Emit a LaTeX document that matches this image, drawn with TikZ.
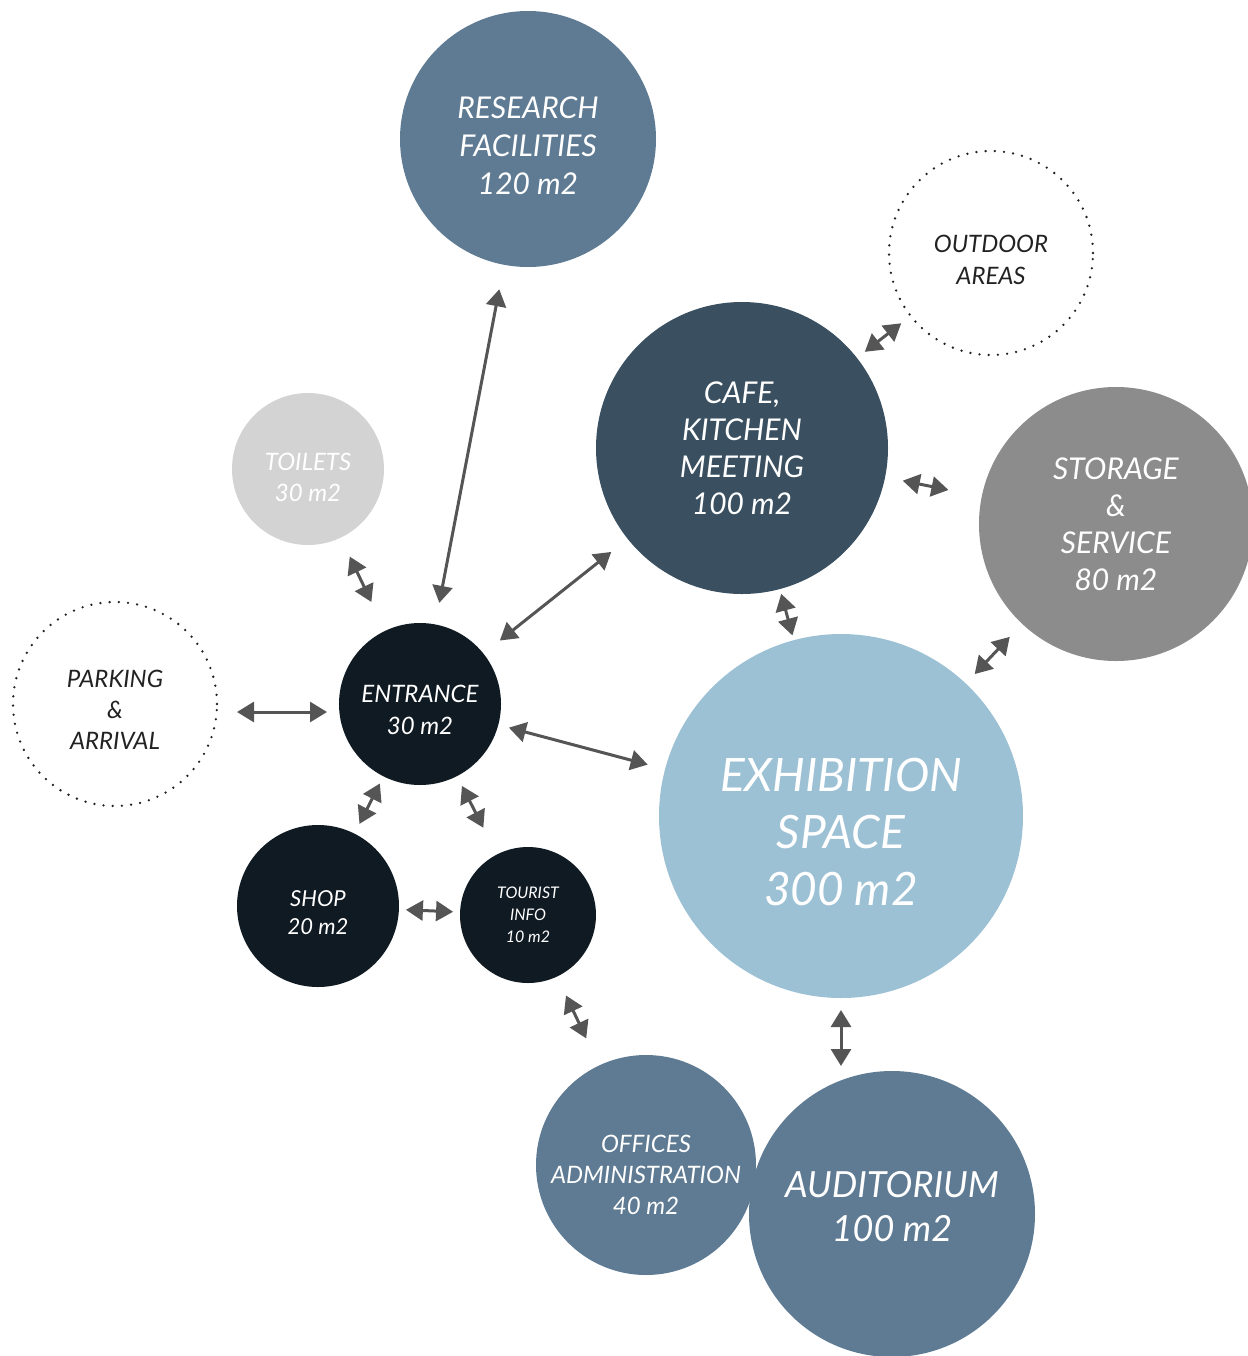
\documentclass[tikz,border=0pt]{standalone}
\usepackage{fontspec}
\setmainfont{Lato}
\usetikzlibrary{arrows.meta}

\definecolor{slateblue}{HTML}{5E7B93}
\definecolor{cafeblue}{HTML}{3A5060}
\definecolor{storegray}{HTML}{8C8C8C}
\definecolor{toiletgray}{HTML}{D3D3D3}
\definecolor{nightblue}{HTML}{101A22}
\definecolor{paleblue}{HTML}{9CC0D4}
\definecolor{arrowgray}{HTML}{555555}
\definecolor{textdark}{HTML}{222222}

\newcommand{\roomfont}[2]{\fontsize{#1}{#2}\selectfont\itshape}

\begin{document}
\begin{tikzpicture}[x=0.5pt, y=-0.5pt,
    room/.style={circle, inner sep=0pt, outer sep=0pt},
    open/.style={room, draw=textdark, line width=1.3pt, dash pattern=on 0pt off 4.6pt,
      line cap=round},
    roomtext/.style={inner sep=0pt, text=white, align=center},
    opentext/.style={roomtext, text=textdark},
    link/.style={{Triangle[length=8.5pt,width=10pt]}-{Triangle[length=8.5pt,width=10pt]},
      draw=arrowgray, line width=1.5pt}]
    \useasboundingbox (0,0) rectangle (1248,1356);

    % rooms
    \node[room, fill=slateblue, minimum size=128pt] (research) at (528,139) {};
    \node[open, minimum size=102pt] (outdoor) at (991,253) {};
    \node[room, fill=cafeblue, minimum size=146pt] (cafe) at (742,448) {};
    \node[room, fill=storegray, minimum size=137pt] (storage) at (1116,524) {};
    \node[room, fill=toiletgray, minimum size=76pt] (toilets) at (308,469) {};
    \node[open, minimum size=102pt] (parking) at (115,704) {};
    \node[room, fill=nightblue, minimum size=81pt] (entrance) at (420,704) {};
    \node[room, fill=paleblue, minimum size=182pt] (exhibition) at (841,816) {};
    \node[room, fill=nightblue, minimum size=81pt] (shop) at (318,906) {};
    \node[room, fill=nightblue, minimum size=68pt] (tourist) at (528,915) {};
    \node[room, fill=slateblue, minimum size=110pt] (offices) at (646,1165) {};
    \node[room, fill=slateblue, minimum size=143pt] (auditorium) at (892,1214) {};

    % room names
    \node[roomtext, font=\roomfont{15}{19}] (research-text) at ([yshift=-3.5pt]research)
      {RESEARCH\\FACILITIES\\120 m2};
    \node[opentext, font=\roomfont{12}{16}] (outdoor-text) at ([yshift=-3.5pt]outdoor)
      {OUTDOOR\\AREAS};
    \node[roomtext, font=\roomfont{15}{18.5}] (cafe-text) at (cafe)
      {CAFE,\\KITCHEN\\MEETING\\100 m2};
    \node[roomtext, font=\roomfont{15}{18.5}] (storage-text) at (storage)
      {STORAGE\\\&\\SERVICE\\80 m2};
    \node[roomtext, font=\roomfont{12}{15.5}] (toilets-text) at ([yshift=-4pt]toilets)
      {TOILETS\\30 m2};
    \node[opentext, font=\roomfont{12}{15.5}] (parking-text) at ([yshift=-3pt]parking)
      {PARKING\\\&\\ARRIVAL};
    \node[roomtext, font=\roomfont{12}{16}] (entrance-text) at ([yshift=-3pt]entrance)
      {ENTRANCE\\30 m2};
    \node[roomtext, font=\roomfont{23}{28.5}] (exhibition-text) at ([yshift=-8pt]exhibition)
      {EXHIBITION\\SPACE\\300 m2};
    \node[roomtext, font=\roomfont{11}{14}] (shop-text) at ([yshift=-3.5pt]shop)
      {SHOP\\20 m2};
    \node[roomtext, font=\roomfont{8}{11}] (tourist-text) at (tourist)
      {TOURIST\\INFO\\10 m2};
    \node[roomtext, font=\roomfont{12}{15.5}] (offices-text) at ([yshift=-5pt]offices)
      {OFFICES\\ADMINISTRATION\\40 m2};
    \node[roomtext, font=\roomfont{18}{22}] (auditorium-text) at ([yshift=3.5pt]auditorium)
      {AUDITORIUM\\100 m2};

    % links
    \draw[link, shorten <=12.5pt, shorten >=11pt] (research) -- (entrance);
    \draw[link, shorten <=10.5pt, shorten >=16pt] (toilets) -- (entrance);
    \draw[link, shorten <=10pt, shorten >=6pt] ([yshift=-4pt]parking.east) -- ([yshift=-4pt]entrance.west);
    \draw[link, shorten <=10.5pt, shorten >=10.5pt] (entrance) -- (cafe);
    \draw[link, shorten <=5.5pt, shorten >=9pt] (entrance) -- (exhibition);
    \draw[link, shorten <=4pt, shorten >=5.5pt] (entrance) -- (shop);
    \draw[link, shorten <=5.5pt, shorten >=15pt] (entrance) -- (tourist);
    \draw[link, shorten <=3.5pt, shorten >=3.5pt] (shop) -- (tourist);
    \draw[link, shorten <=10.5pt, shorten >=15pt] (tourist) -- (offices);
    \draw[link, shorten <=5pt, shorten >=6pt] (cafe) -- (outdoor);
    \draw[link, shorten <=9pt, shorten >=17pt] (cafe) -- (storage);
    \draw[link, shorten <=2.5pt, shorten >=2.5pt] (cafe) -- (exhibition);
    \draw[link, shorten <=9pt, shorten >=6.5pt] (storage) -- (exhibition);
    \draw[link, shorten <=6pt, shorten >=74pt] (exhibition) -- (exhibition |- auditorium);
  \end{tikzpicture}
\end{document}
